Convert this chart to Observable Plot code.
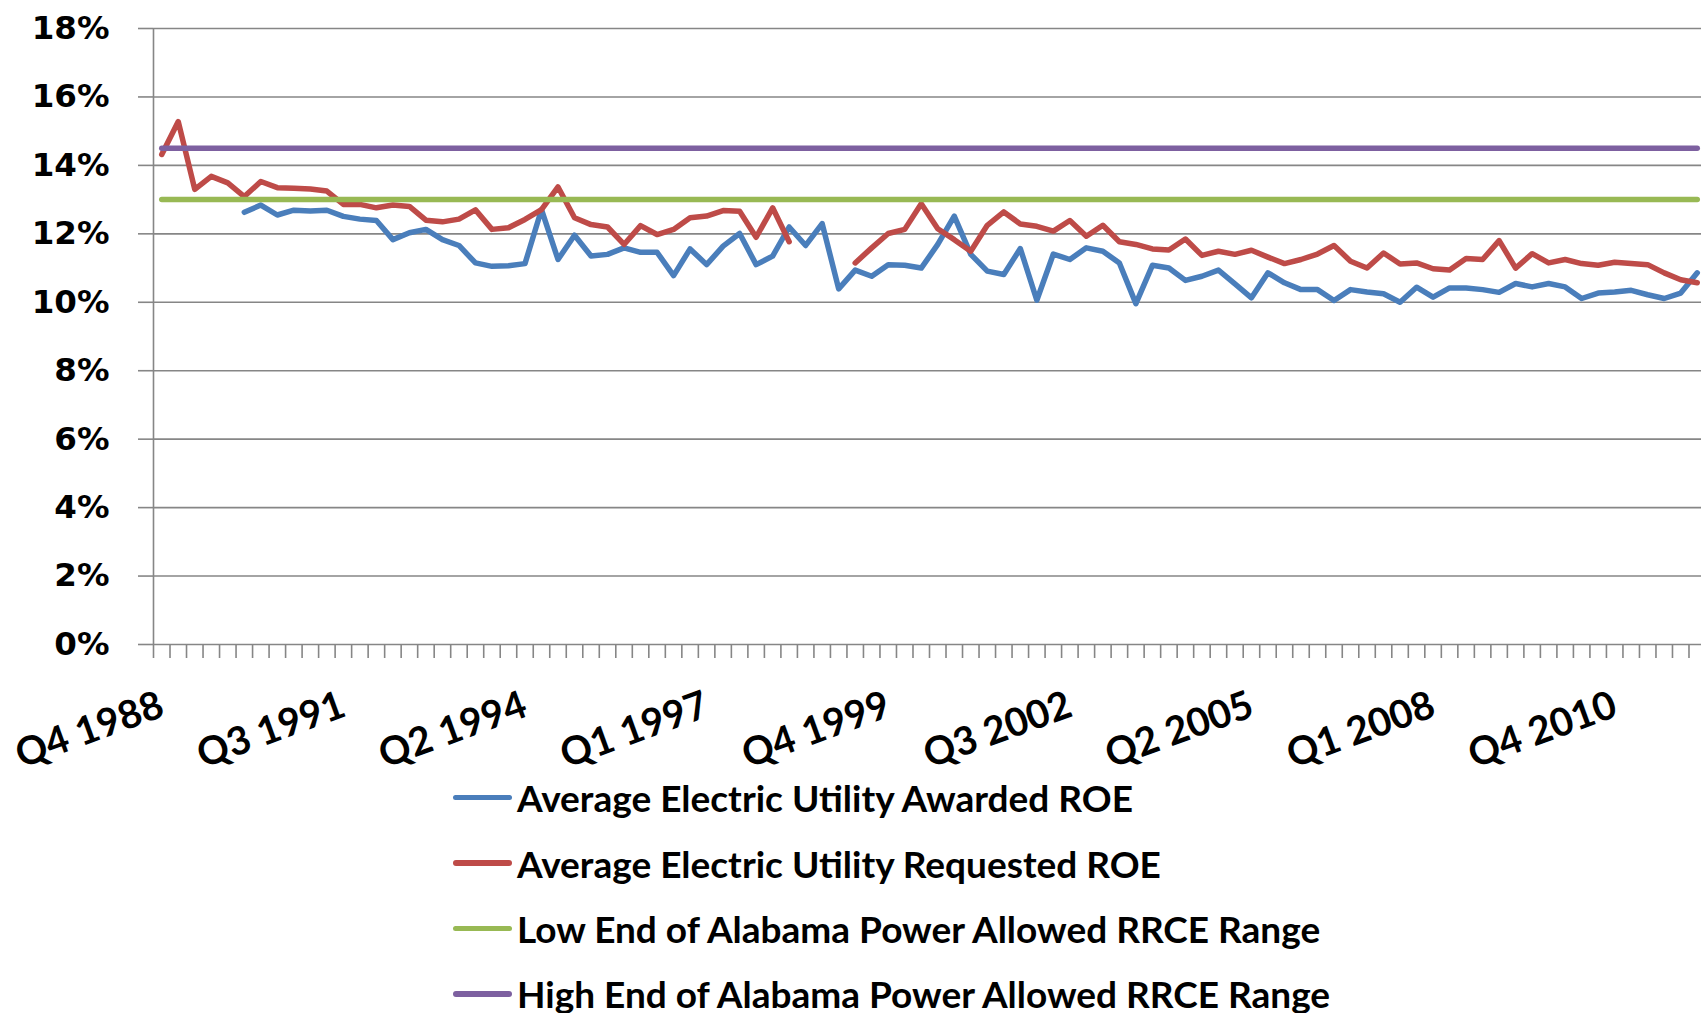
<!DOCTYPE html>
<html><head><meta charset="utf-8">
<script src="https://cdn.jsdelivr.net/npm/d3@7"></script>
<script src="https://cdn.jsdelivr.net/npm/@observablehq/plot@0.6"></script>
<style>
html,body{margin:0;padding:0;background:#fff;overflow:hidden;}
#legend{font-family:Lato,sans-serif;font-weight:700;margin-top:-25px;position:relative;}
.row{height:65.4px;display:flex;align-items:center;}
.sw{margin-left:453px;width:59px;height:5.5px;border-radius:3px;flex:none;}
.lt{margin-left:5px;font-size:37px;color:#000;white-space:nowrap;}
</style></head><body>
<div id="chart"></div><div id="legend"></div>
<script>
const quarters = [
 "Q4 1988",
 "Q1 1989","Q2 1989","Q3 1989","Q4 1989",
 "Q1 1990","Q2 1990","Q3 1990","Q4 1990",
 "Q1 1991","Q2 1991","Q3 1991","Q4 1991",
 "Q1 1992","Q2 1992","Q3 1992","Q4 1992",
 "Q1 1993","Q2 1993","Q3 1993","Q4 1993",
 "Q1 1994","Q2 1994","Q3 1994","Q4 1994",
 "Q1 1995","Q2 1995","Q3 1995","Q4 1995",
 "Q1 1996","Q2 1996","Q3 1996","Q4 1996",
 "Q1 1997","Q2 1997","Q3 1997","Q4 1997",
 "Q1 1998","Q2 1998","Q3 1998","Q4 1998",
 "Q1 1999","Q2 1999","Q3 1999","Q4 1999",
 "Q1 2000","Q2 2000","Q3 2000","Q4 2000",
 "Q1 2001","Q2 2001","Q3 2001","Q4 2001",
 "Q1 2002","Q2 2002","Q3 2002","Q4 2002",
 "Q1 2003","Q2 2003","Q3 2003","Q4 2003",
 "Q1 2004","Q2 2004","Q3 2004","Q4 2004",
 "Q1 2005","Q2 2005","Q3 2005","Q4 2005",
 "Q1 2006","Q2 2006","Q3 2006","Q4 2006",
 "Q1 2007","Q2 2007","Q3 2007","Q4 2007",
 "Q1 2008","Q2 2008","Q3 2008","Q4 2008",
 "Q1 2009","Q2 2009","Q3 2009","Q4 2009",
 "Q1 2010","Q2 2010","Q3 2010","Q4 2010",
 "Q1 2011","Q2 2011","Q3 2011","Q4 2011",
 "Q1 2012"
];

const awarded = [
 null,null,null,null,null,12.63,12.84,12.55,12.69,12.67,
 12.69,12.51,12.43,12.39,11.83,12.03,12.13,11.83,11.66,11.15,
 11.05,11.07,11.13,12.71,11.25,11.96,11.35,11.40,11.59,11.46,
 11.46,10.78,11.56,11.10,11.64,12.01,11.10,11.35,12.20,11.66,
 12.30,10.39,10.94,10.76,11.10,11.08,11.00,11.69,12.52,11.40,
 10.91,10.81,11.57,10.06,11.41,11.25,11.59,11.49,11.15,9.96,
 11.08,11.00,10.64,10.76,10.94,10.54,10.13,10.86,10.57,10.37,
 10.37,10.05,10.37,10.30,10.25,10.00,10.44,10.15,10.42,10.42,
 10.37,10.29,10.55,10.45,10.55,10.45,10.11,10.27,10.30,10.35,
 10.22,10.11,10.27,10.86
];

const requested = [
 14.32,15.28,13.30,13.68,13.49,13.09,13.53,13.35,13.33,13.31,
 13.25,12.86,12.86,12.76,12.84,12.80,12.40,12.35,12.43,12.70,
 12.13,12.18,12.42,12.71,13.37,12.47,12.27,12.20,11.69,12.24,
 11.98,12.13,12.47,12.52,12.68,12.66,11.90,12.76,11.77,null,
 null,null,11.15,11.59,12.01,12.13,12.88,12.15,11.83,11.49,
 12.25,12.64,12.29,12.22,12.08,12.39,11.93,12.25,11.77,11.69,
 11.56,11.53,11.85,11.37,11.49,11.40,11.52,11.32,11.13,11.25,
 11.41,11.66,11.20,11.00,11.44,11.12,11.15,10.98,10.94,11.28,
 11.25,11.80,11.00,11.42,11.15,11.25,11.13,11.08,11.17,11.13,
 11.10,10.86,10.66,10.57
];

const lowEnd = 13.0;
const highEnd = 14.5;

const seriesNames = [
 "Average Electric Utility Awarded ROE",
 "Average Electric Utility Requested ROE",
 "Low End of Alabama Power Allowed RRCE Range",
 "High End of Alabama Power Allowed RRCE Range"
];
const seriesColors = ["#4a7ebb", "#be4b48", "#98b954", "#7d60a0"];

const yTicks = [0, 2, 4, 6, 8, 10, 12, 14, 16, 18];
const xTickLabels = ["Q4 1988","Q3 1991","Q2 1994","Q1 1997","Q4 1999","Q3 2002","Q2 2005","Q1 2008","Q4 2010"];

const n = quarters.length;
const rows = quarters.map((q, i) => ({
  i, q,
  awarded: awarded[i],
  requested: requested[i],
  low: lowEnd,
  high: highEnd
}));
const xDomain = [-0.5, n - 0.5];
const yDomain = [0, 18];
const gridColor = "#868686";
const lineW = 5.5;
const lineOpts = {x: "i", strokeWidth: lineW, strokeLinecap: "round", strokeLinejoin: "round"};

const chart = Plot.plot({
  width: 1701,
  height: 790,
  marginLeft: 153,
  marginRight: -4,
  marginTop: 28,
  marginBottom: 146,
  x: {type: "linear", domain: xDomain},
  y: {domain: yDomain},
  style: {background: "transparent", color: "#000"},
  marks: [
    Plot.gridY({ticks: yTicks, stroke: gridColor, strokeOpacity: 1, strokeWidth: 1.6}),
    Plot.axisY({ticks: yTicks, tickSize: 15, tickPadding: 29, tickFormat: d => d + "%",
      fontSize: 32.5, fontFamily: "DejaVu Sans", fontWeight: "bold",
      stroke: gridColor, strokeWidth: 1.6, label: null}),
    Plot.axisX({ticks: d3.range(n).map(i => i - 0.5), tickSize: 14, tickFormat: () => "",
      stroke: gridColor, strokeWidth: 1.6, label: null}),
    Plot.ruleX([xDomain[0]], {y1: yDomain[0], y2: yDomain[1], stroke: gridColor, strokeWidth: 1.6}),
    Plot.line(rows, {...lineOpts, y: "awarded", stroke: seriesColors[0]}),
    Plot.line(rows, {...lineOpts, y: "requested", stroke: seriesColors[1]}),
    Plot.line(rows, {...lineOpts, y: "low", stroke: seriesColors[2]}),
    Plot.line(rows, {...lineOpts, y: "high", stroke: seriesColors[3]}),
    Plot.text(xTickLabels, {
      x: d => quarters.indexOf(d), text: d => d,
      frameAnchor: "bottom", dy: 45, dx: -5, rotate: -20,
      textAnchor: "end", lineAnchor: "top",
      fontSize: 39, fontFamily: "Lato", fontWeight: "bold", fill: "#000"
    })
  ]
});
document.getElementById("chart").appendChild(chart);

const legend = document.getElementById("legend");
seriesNames.forEach((name, k) => {
  const row = document.createElement("div");
  row.className = "row";
  const sw = document.createElement("span");
  sw.className = "sw";
  sw.style.background = seriesColors[k];
  const t = document.createElement("span");
  t.className = "lt";
  t.textContent = name;
  row.appendChild(sw);
  row.appendChild(t);
  legend.appendChild(row);
});
</script>
</body></html>
